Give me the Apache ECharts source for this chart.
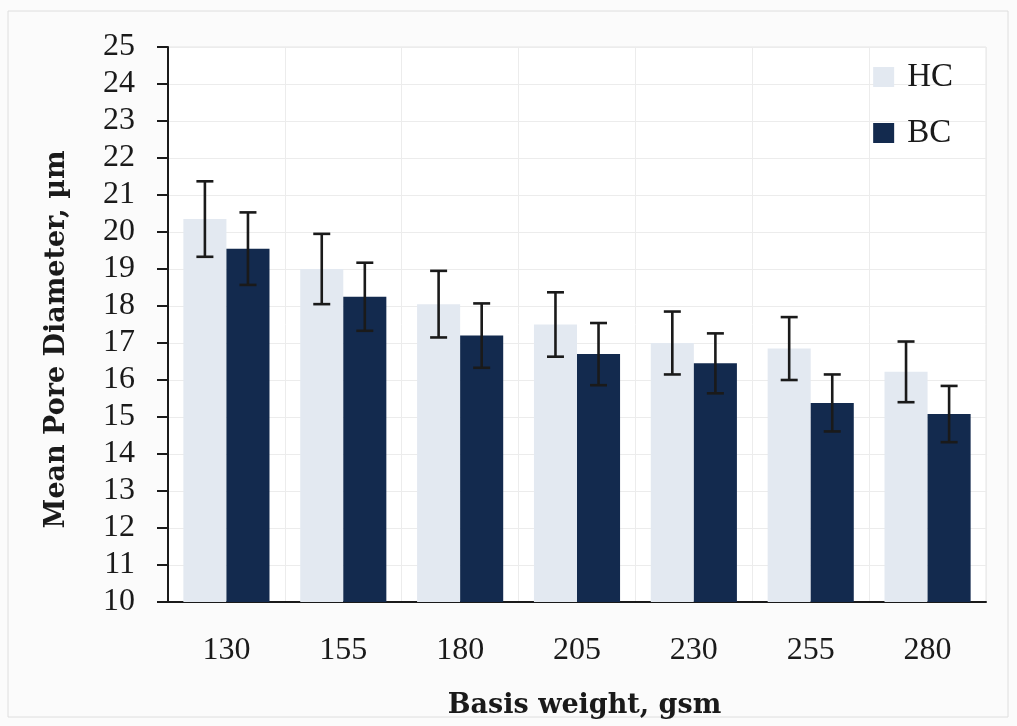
<!DOCTYPE html>
<html>
<head>
<meta charset="utf-8">
<script src="https://cdn.jsdelivr.net/npm/echarts@6/dist/echarts.min.js"></script>
<style>
  html, body { margin: 0; padding: 0; background: #fbfbfb; }
  #chart { width: 1017px; height: 726px; }
</style>
</head>
<body>
<div id="chart"></div>
<script>
var categories = ['130', '155', '180', '205', '230', '255', '280'];
var hcMean = [20.35, 19.0, 18.05, 17.5, 17.0, 16.85, 16.22];
var hcErr = [1.02, 0.95, 0.9, 0.87, 0.85, 0.85, 0.82];
var bcMean = [19.55, 18.25, 17.2, 16.7, 16.45, 15.38, 15.08];
var bcErr = [0.98, 0.92, 0.87, 0.84, 0.81, 0.77, 0.76];

var gapFrac = 0.263;
var serif = '"Liberation Serif", "DejaVu Serif", serif';
var serifBold = '"DejaVu Serif", "Liberation Serif", serif';

function errData(mean, err) {
    return mean.map(function (m, i) { return [i, m - err[i], m + err[i]]; });
}

// error bar drawn over one of the two bars in a category
function errRender(side) {
    return function (params, api) {
        var band = api.size([1, 0])[0];
        var off = side * band * (1 - gapFrac) / 4;
        var lo = api.coord([api.value(0), api.value(1)]);
        var hi = api.coord([api.value(0), api.value(2)]);
        var x = lo[0] + off;
        var half = 8.5;
        var style = { stroke: '#1a1a1a', lineWidth: 2.6 };
        return {
            type: 'group',
            children: [
                { type: 'line', shape: { x1: x, y1: hi[1], x2: x, y2: lo[1] }, style: style },
                { type: 'line', shape: { x1: x - half, y1: hi[1], x2: x + half, y2: hi[1] }, style: style },
                { type: 'line', shape: { x1: x - half, y1: lo[1], x2: x + half, y2: lo[1] }, style: style }
            ]
        };
    };
}

var chartDom = document.getElementById('chart');
var myChart = echarts.init(chartDom);
var option;

option = {
    backgroundColor: '#fbfbfb',
    animation: false,
    graphic: [
        {
            type: 'rect',
            shape: { x: 8, y: 11, width: 1000, height: 706 },
            style: { fill: 'none', stroke: '#dedede', lineWidth: 1 },
            z: -10
        }
    ],
    grid: {
        left: 168,
        right: 31,
        top: 47,
        bottom: 124,
        show: true,
        backgroundColor: '#ffffff',
        borderColor: '#e4e4e4',
        borderWidth: 1
    },
    legend: {
        orient: 'vertical',
        right: 59,
        top: 55,
        itemWidth: 21,
        itemHeight: 20,
        itemGap: 22,
        icon: 'rect',
        data: ['HC', 'BC'],
        textStyle: {
            fontFamily: serif, fontSize: 33, lineHeight: 34, color: '#1a1a1a',
            padding: [0, 0, 0, 8]
        }
    },
    xAxis: {
        type: 'category',
        data: categories,
        name: 'Basis weight, gsm',
        nameLocation: 'middle',
        nameGap: 90,
        nameTextStyle: {
            fontFamily: serifBold, fontSize: 27, fontWeight: 'bold', color: '#1a1a1a',
            padding: [0, 0, 0, 15]
        },
        axisLine: { lineStyle: { color: '#1a1a1a', width: 2 } },
        axisTick: { show: false },
        axisLabel: { fontFamily: serif, fontSize: 32, color: '#1a1a1a', margin: 33 },
        splitLine: { show: true, lineStyle: { color: '#ececec' } }
    },
    yAxis: {
        type: 'value',
        min: 10,
        max: 25,
        interval: 1,
        name: 'Mean Pore Diameter, \u00b5m',
        nameLocation: 'middle',
        nameGap: 98,
        nameTextStyle: {
            fontFamily: serifBold, fontSize: 27, fontWeight: 'bold', color: '#1a1a1a',
            padding: [0, 30, 0, 0]
        },
        axisLine: { show: true, lineStyle: { color: '#1a1a1a', width: 2 } },
        axisTick: { show: true, length: 11, lineStyle: { color: '#1a1a1a', width: 2 } },
        axisLabel: { fontFamily: serif, fontSize: 32, color: '#1a1a1a', margin: 33 },
        splitLine: { show: true, lineStyle: { color: '#ececec' } }
    },
    series: [
        {
            name: 'HC',
            type: 'bar',
            data: hcMean,
            barGap: '0%',
            barCategoryGap: (gapFrac * 100) + '%',
            itemStyle: { color: '#e3e9f1' }
        },
        {
            name: 'BC',
            type: 'bar',
            data: bcMean,
            barGap: '0%',
            barCategoryGap: (gapFrac * 100) + '%',
            itemStyle: { color: '#132a4e' }
        },
        {
            type: 'custom',
            renderItem: errRender(-1),
            data: errData(hcMean, hcErr),
            encode: { x: 0, y: [1, 2] },
            z: 10
        },
        {
            type: 'custom',
            renderItem: errRender(1),
            data: errData(bcMean, bcErr),
            encode: { x: 0, y: [1, 2] },
            z: 10
        }
    ]
};

option && myChart.setOption(option);
</script>
</body>
</html>
